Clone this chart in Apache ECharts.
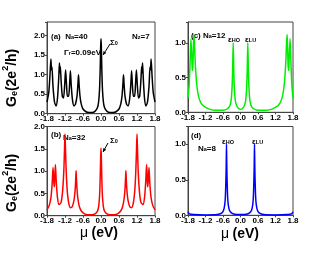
<!DOCTYPE html>
<html><head><meta charset="utf-8">
<script src="https://cdn.jsdelivr.net/npm/echarts@6/dist/echarts.min.js"></script>
<style>html,body{margin:0;padding:0;background:#fff}#c{width:330px;height:254px}</style>
</head><body><div id="c"></div>
<script>
// ---- data ----
const xTicks = [-1.8, -1.2, -0.6, 0.0, 0.6, 1.2, 1.8];

// panel (a) N_a=40, black
const muA = [-1.8,-1.74,-1.7,-1.67,-1.65,-1.635,-1.6,-1.55,-1.5,-1.45,-1.41,-1.385,-1.37,-1.355,-1.33,-1.29,-1.25,-1.21,-1.18,-1.15,-1.12,-1.08,-1.05,-1.02,-0.99,-0.95,-0.9,-0.85,-0.8,-0.77,-0.75,-0.73,-0.7,-0.66,-0.6,-0.5,-0.4,-0.3,-0.2,-0.12,-0.08,-0.05,-0.03,-0.02,-0.01,0,
  0.01,0.02,0.03,0.05,0.08,0.12,0.2,0.3,0.4,0.5,0.6,0.66,0.7,0.73,0.75,0.77,0.8,0.85,0.9,0.95,0.99,1.02,1.05,1.08,1.12,1.15,1.18,1.21,1.25,1.29,1.33,1.355,1.37,1.385,1.41,1.45,1.5,1.55,1.6,1.635,1.65,1.67,1.7,1.74,1.8];
const gA = [0.3,0.55,1.0,1.4,1.12,1.2,0.7,0.3,0.2,0.4,0.9,1.3,1.05,1.2,0.85,0.45,0.4,0.75,1.12,0.75,0.45,0.45,0.7,1.1,0.7,0.35,0.2,0.25,0.45,0.75,1.0,0.75,0.45,0.25,0.12,0.05,0.03,0.03,0.06,0.15,0.3,0.6,1.05,1.4,1.75,1.92,
  1.75,1.4,1.05,0.6,0.3,0.15,0.06,0.03,0.03,0.05,0.12,0.25,0.45,0.75,1.0,0.75,0.45,0.25,0.2,0.35,0.7,1.1,0.7,0.45,0.45,0.75,1.12,0.75,0.4,0.45,0.85,1.2,1.05,1.3,0.9,0.4,0.2,0.3,0.7,1.2,1.12,1.4,1.0,0.55,0.3];

// panel (b) N_a=32, red
const muB = [-1.8,-1.73,-1.67,-1.63,-1.6,-1.58,-1.56,-1.55,-1.52,-1.49,-1.45,-1.4,-1.33,-1.28,-1.24,-1.22,-1.2,-1.18,-1.16,-1.13,-1.08,-1.02,-0.96,-0.9,-0.86,-0.84,-0.83,-0.82,-0.8,-0.77,-0.72,-0.65,-0.55,-0.45,-0.3,-0.2,-0.12,-0.08,-0.05,-0.035,-0.02,-0.01,0,
  0.01,0.02,0.035,0.05,0.08,0.12,0.2,0.3,0.45,0.55,0.65,0.72,0.77,0.8,0.82,0.83,0.84,0.86,0.9,0.96,1.02,1.08,1.13,1.16,1.18,1.2,1.22,1.24,1.28,1.33,1.4,1.45,1.49,1.52,1.55,1.56,1.58,1.6,1.63,1.67,1.73,1.8];
const gB = [0.13,0.22,0.4,0.7,1.08,0.85,0.65,0.7,1.15,0.75,0.4,0.25,0.3,0.55,1.0,1.4,1.83,1.4,1.0,0.6,0.3,0.18,0.2,0.35,0.6,0.85,1.01,0.85,0.6,0.38,0.2,0.1,0.04,0.02,0.02,0.04,0.1,0.2,0.42,0.65,1.05,1.35,1.51,
  1.35,1.05,0.65,0.42,0.2,0.1,0.04,0.02,0.02,0.04,0.1,0.2,0.38,0.6,0.85,1.01,0.85,0.6,0.35,0.2,0.18,0.3,0.6,1.0,1.4,1.83,1.4,1.0,0.55,0.3,0.25,0.4,0.75,1.15,0.7,0.65,0.85,1.08,0.7,0.4,0.22,0.13];

// panel (c) N_a=12, green
const muC = [-1.8,-1.76,-1.73,-1.7,-1.67,-1.65,-1.63,-1.6,-1.58,-1.55,-1.5,-1.42,-1.3,-1.1,-0.9,-0.6,-0.4,-0.33,-0.29,-0.27,-0.25,-0.23,-0.21,-0.17,-0.1,0,
  0.1,0.17,0.21,0.23,0.25,0.27,0.29,0.33,0.4,0.6,0.9,1.1,1.3,1.42,1.5,1.55,1.58,1.6,1.63,1.65,1.67,1.7,1.73,1.76,1.8];
const gC = [0.2,0.4,0.7,1.06,0.8,0.6,0.7,1.12,1.0,0.7,0.4,0.2,0.1,0.05,0.03,0.03,0.07,0.15,0.35,0.6,1.0,0.6,0.35,0.15,0.07,0.04,
  0.07,0.15,0.35,0.6,1.0,0.6,0.35,0.15,0.07,0.03,0.03,0.05,0.1,0.2,0.4,0.7,1.0,1.12,0.7,0.6,0.8,1.06,0.7,0.4,0.2];

// panel (d) N_a=8, blue
const muD = [-1.8,-1.75,-1.6,-1.2,-0.8,-0.65,-0.58,-0.54,-0.52,-0.5,-0.49,-0.48,-0.47,-0.46,-0.44,-0.42,-0.38,-0.3,-0.2,0,
  0.2,0.3,0.38,0.42,0.44,0.46,0.47,0.48,0.49,0.5,0.52,0.54,0.58,0.65,0.8,1.2,1.6,1.75,1.8];
const gD = [0.05,0.02,0.01,0.005,0.01,0.03,0.07,0.15,0.25,0.5,0.7,1.0,0.7,0.5,0.25,0.15,0.07,0.03,0.015,0.01,
  0.015,0.03,0.07,0.15,0.25,0.5,0.7,1.0,0.7,0.5,0.25,0.15,0.07,0.03,0.01,0.005,0.01,0.02,0.05];

const panelColors = ['#000000', '#ff0000', '#00ee00', '#0000ff'];
const yMaxes = [2.35, 2.0, 1.3, 1.25];
const yLabelMax = [2.0, 2.0, 1.0, 1.0];

// ---- chart ----
const zip = (a, b) => a.map((v, i) => [v, b[i]]);
const FONT = 'Arial, "Liberation Sans", sans-serif';
const grids = [
  {left: 47, top: 22, width: 108, height: 91.7},
  {left: 47, top: 126.5, width: 108, height: 89.2},
  {left: 188, top: 22, width: 105, height: 90.3},
  {left: 188, top: 126.5, width: 105, height: 88.8}
].map(g => Object.assign({show: true, borderColor: '#444', borderWidth: 1, backgroundColor: 'transparent'}, g));

const xAxes = grids.map((g, i) => ({
  type: 'value', gridIndex: i, min: xTicks[0], max: xTicks[xTicks.length - 1], interval: 0.6,
  axisLine: {show: true, onZero: false, lineStyle: {color: '#444', width: 1}},
  axisTick: {show: true, inside: false, length: 2, lineStyle: {color: '#444'}},
  splitLine: {show: false},
  axisLabel: {fontSize: 8, fontWeight: 'bold', fontFamily: FONT, color: '#000', margin: 1,
    formatter: v => v.toFixed(1)}
}));
const yAxes = grids.map((g, i) => ({
  type: 'value', gridIndex: i, min: 0, max: yMaxes[i], interval: 0.5,
  axisLine: {show: true, onZero: false, lineStyle: {color: '#444', width: 1}},
  axisTick: {show: true, inside: false, length: 2, lineStyle: {color: '#444'}},
  splitLine: {show: false},
  axisLabel: {fontSize: 8, fontWeight: 'bold', fontFamily: FONT, color: '#000', margin: 2,
    formatter: v => (v > yLabelMax[i] + 1e-6 ? '' : v.toFixed(1))}
}));

const datasets = [zip(muA, gA), zip(muB, gB), zip(muC, gC), zip(muD, gD)];
const series = datasets.map((d, i) => ({
  type: 'line', xAxisIndex: i, yAxisIndex: i, data: d, showSymbol: false, smooth: 0.25,
  lineStyle: {color: panelColors[i], width: 1.5}, itemStyle: {color: panelColors[i]}, silent: true, animation: false
}));

const lab = 8;
const rich = {
  n: {fontSize: lab, fontWeight: 'bold', fontFamily: FONT, color: '#000', lineHeight: 11, verticalAlign: 'bottom'},
  s: {fontSize: 5.5, fontWeight: 'bold', fontFamily: FONT, color: '#000', lineHeight: 6, verticalAlign: 'bottom'},
  big: {fontSize: 14, fontWeight: 'bold', fontFamily: FONT, color: '#000', lineHeight: 18, verticalAlign: 'bottom'},
  bs: {fontSize: 9, fontWeight: 'bold', fontFamily: FONT, color: '#000', lineHeight: 9, verticalAlign: 'bottom'},
  bp: {fontSize: 9, fontWeight: 'bold', fontFamily: FONT, color: '#000', lineHeight: 9, verticalAlign: 'top'},
  bn: {fontSize: 14, fontFamily: FONT, color: '#000', lineHeight: 18, verticalAlign: 'bottom'}
};
function txt(x, y, text, extra, rot) {
  const el = {type: 'text', x: x, y: y, silent: true,
    style: Object.assign({text: text, rich: rich, align: 'left', verticalAlign: 'middle'}, extra || {})};
  if (rot) el.rotation = rot;
  return el;
}
function arrow(x1, y1, x2, y2) {
  const a = Math.atan2(y2 - y1, x2 - x1), L = 4, w = 0.45;
  return [
    {type: 'line', silent: true, shape: {x1: x1, y1: y1, x2: x2, y2: y2}, style: {stroke: '#000', lineWidth: 1}},
    {type: 'polygon', silent: true, shape: {points: [[x2, y2],
      [x2 - L * Math.cos(a - w), y2 - L * Math.sin(a - w)],
      [x2 - L * Math.cos(a + w), y2 - L * Math.sin(a + w)]]}, style: {fill: '#000'}}
  ];
}
const yTitle = '{big|G}{bs|e}{big|(2e}{bp|2}{big|/h)}';
const graphic = [
  // y titles (text starts at the bottom and reads upward)
  txt(10, 107, yTitle, {align: 'left'}, Math.PI / 2),
  txt(10, 212, yTitle, {align: 'left'}, Math.PI / 2),
  // x titles
  txt(99, 231, '{bn|μ} {big|(eV)}', {align: 'center'}),
  txt(240, 232, '{bn|μ} {big|(eV)}', {align: 'center'}),
  // panel (a)
  txt(51, 35, '{n|(a)  N}{s|a}{n|=40}'),
  txt(132, 35, '{n|N}{s|z}{n|=7}'),
  txt(64, 51, '{n|Γ}{s|r}{n|=0.09eV}'),
  txt(110, 41, '{n|Σ}{s|0}'),
  // panel (b)
  txt(51, 133, '{n|(b)}'),
  txt(63, 136, '{n|N}{s|a}{n|=32}'),
  txt(110, 139, '{n|Σ}{s|0}'),
  // panel (c)
  txt(191, 34, '{n|(c) N}{s|a}{n|=12}'),
  txt(228, 38, '{n|ε}{s|HO}'),
  txt(245, 38, '{n|ε}{s|LU}'),
  // panel (d)
  txt(191, 134, '{n|(d)}'),
  txt(198, 147, '{n|N}{s|a}{n|=8}'),
  txt(222, 140, '{n|ε}{s|HO}'),
  txt(252, 140, '{n|ε}{s|LU}')
].concat(arrow(110, 44, 103, 55), arrow(108, 143, 103, 152));

const chart = echarts.init(document.getElementById('c'), null, {renderer: 'canvas'});
chart.setOption({
  animation: false,
  backgroundColor: '#fff',
  grid: grids, xAxis: xAxes, yAxis: yAxes, series: series, graphic: graphic
});
</script></body></html>
